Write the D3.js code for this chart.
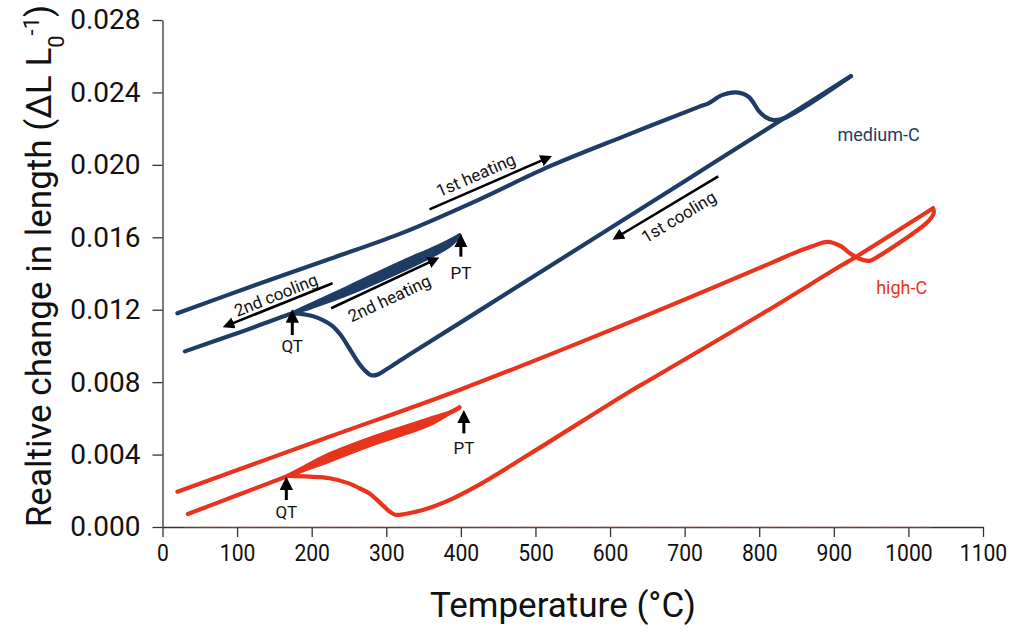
<!DOCTYPE html>
<html>
<head>
<meta charset="utf-8">
<script src="https://cdnjs.cloudflare.com/ajax/libs/d3/7.8.5/d3.min.js"></script>
<style>
  body { margin: 0; background: #fff; }
  svg { display: block; }
  .tick text { font-family: Roboto, "Noto Sans", sans-serif; fill: #111; }
  .note { font-family: Roboto, "Noto Sans", sans-serif; fill: #111; }
</style>
</head>
<body>
<svg id="chart" width="1024" height="640"></svg>
<script>
"use strict";

// axis ticks
var xTicks = [0, 100, 200, 300, 400, 500, 600, 700, 800, 900, 1000, 1100];
var yTicks = [0.000, 0.004, 0.008, 0.012, 0.016, 0.020, 0.024, 0.028];

// medium-C dilatometry curve, [temperature, dL/L0]
var mediumHeat1 = [[20, 0.0118], [120, 0.0133], [224, 0.0148], [319, 0.0162], [420, 0.0180],
  [518, 0.0199], [620, 0.0216], [719, 0.0232], [732, 0.0234], [750, 0.02385], [769, 0.0240],
  [786, 0.02375], [799, 0.0230], [808, 0.02265], [819, 0.02247], [835, 0.0226], [923, 0.0249]];
var mediumCool1 = [[923, 0.0249], [835, 0.02261], [700, 0.0191], [558, 0.01541], [411, 0.01159],
  [330, 0.0095], [300, 0.0087], [287, 0.0084], [279, 0.0084], [270, 0.0087], [264, 0.0090],
  [250, 0.0099], [239, 0.0106], [228, 0.0111], [215, 0.01143], [201, 0.01165], [188, 0.01176],
  [174, 0.0118]];
var mediumHeat2 = [[174, 0.0118], [200, 0.0123], [250, 0.01325], [317, 0.01455], [370, 0.0155],
  [398, 0.0161]];
var mediumCool2 = [[398, 0.0161], [385, 0.01555], [350, 0.01475], [317, 0.0141], [250, 0.0129],
  [200, 0.01215], [174, 0.0118], [100, 0.0107], [30, 0.0097]];

// high-C dilatometry curve
var highHeat1 = [[20, 0.00195], [218, 0.0049], [398, 0.00757], [626, 0.0113], [817, 0.0146],
  [845, 0.0151], [871, 0.0155], [891, 0.01575], [910, 0.0155], [922, 0.0151], [935, 0.0148],
  [948, 0.0147], [962, 0.0150], [1027, 0.0169], [1034, 0.01735], [1033, 0.0176]];
var highCool1 = [[1033, 0.0176], [929, 0.0149], [907, 0.01437], [813, 0.0120], [653, 0.00812],
  [626, 0.00747], [491, 0.0040], [420, 0.00223], [380, 0.0014], [349, 0.00094], [325, 0.00072],
  [312, 0.00068], [303, 0.0009], [295, 0.00121], [277, 0.00186], [264, 0.00214], [250, 0.00241],
  [224, 0.00269], [197, 0.00278], [168, 0.00282]];
var highHeat2 = [[168, 0.00282], [190, 0.0033], [218, 0.0039], [280, 0.0049], [357, 0.00595],
  [390, 0.0064], [398, 0.0066]];
var highCool2 = [[398, 0.0066], [385, 0.0063], [357, 0.00565], [280, 0.00455], [218, 0.00358],
  [168, 0.00282], [100, 0.00175], [34, 0.00072]];

// faint trace along the zero line
var baseTrace = [[30, 0], [1030, 0]];

// direction arrows: from, to, label, label position
var runNotes = [
  { from: [358, 0.01754], to: [515, 0.02036], text: "1st heating", at: [420, 0.01944] },
  { from: [745, 0.01937], to: [610, 0.01603], text: "1st cooling", at: [692, 0.01713] },
  { from: [228, 0.01346], to: [88, 0.01115], text: "2nd cooling", at: [152, 0.01281] },
  { from: [226, 0.01208], to: [364, 0.01474], text: "2nd heating", at: [304, 0.01263] }
];
// QT / PT markers: temperature, arrow foot, arrow head, label level
var pointNotes = [
  { t: 174, y0: 0.0106, y1: 0.01165, text: "QT", ty: 0.0100 },
  { t: 400, y0: 0.01493, y1: 0.01581, text: "PT", ty: 0.01401 },
  { t: 166, y0: 0.00149, y1: 0.00241, text: "QT", ty: 0.00084 },
  { t: 404, y0: 0.00517, y1: 0.00609, text: "PT", ty: 0.00435 }
];

var navy = "#1e3c64", red = "#e8341c";

var svg = d3.select("#chart");
var x = d3.scaleLinear().domain([0, 1100]).range([162.5, 983]);
var y = d3.scaleLinear().domain([0, 0.028]).range([527, 20]);

// arrow head marker
svg.append("defs").append("marker")
  .attr("id", "head")
  .attr("viewBox", "0 0 10 10")
  .attr("refX", 5).attr("refY", 5)
  .attr("markerWidth", 4.5).attr("markerHeight", 4.5)
  .attr("markerUnits", "strokeWidth")
  .attr("orient", "auto")
  .append("path")
    .attr("d", "M 0 0 L 10 5 L 0 10 z")
    .attr("fill", "#000");

// axes
var xAxis = svg.append("g")
  .attr("transform", "translate(0," + y(0) + ")")
  .call(d3.axisBottom(x).tickValues(xTicks).tickSize(10).tickSizeOuter(0).tickPadding(7)
    .tickFormat(d3.format("d")));
xAxis.selectAll(".tick text")
  .style("font-size", "24px")
  .attr("transform", "scale(0.88,1)");

var yAxis = svg.append("g")
  .attr("transform", "translate(" + x(0) + ",0)")
  .call(d3.axisLeft(y).tickValues(yTicks).tickSize(10).tickSizeOuter(0).tickPadding(12)
    .tickFormat(d3.format(".3f")));
yAxis.selectAll(".tick text").style("font-size", "28px");

[xAxis, yAxis].forEach(function(a) {
  a.selectAll("path, line").attr("stroke", "#333").attr("stroke-width", 1.3);
});

// axis titles
svg.append("text")
  .attr("class", "note")
  .attr("x", 563).attr("y", 617)
  .attr("text-anchor", "middle")
  .style("font-size", "35px")
  .text("Temperature (°C)");

var yTitle = svg.append("text")
  .attr("class", "note")
  .attr("transform", "translate(51,266) rotate(-90)")
  .attr("text-anchor", "middle")
  .style("font-size", "35px");
yTitle.append("tspan").text("Realtive change in length (ΔL L");
yTitle.append("tspan").attr("baseline-shift", "sub").style("font-size", "22px").text("0");
yTitle.append("tspan").attr("baseline-shift", "super").style("font-size", "22px").text("-1");
yTitle.append("tspan").text(")");

var line = d3.line()
  .x(function(d) { return x(d[0]); })
  .y(function(d) { return y(d[1]); })
  .curve(d3.curveCatmullRom.alpha(0.5));

svg.append("path")
  .attr("d", d3.line().x(function(d) { return x(d[0]); }).y(function(d) { return y(d[1]); })(baseTrace))
  .attr("fill", "none")
  .attr("stroke", "#f2a08f")
  .attr("stroke-width", 1)
  .attr("stroke-dasharray", "1,1.5");

// the 2nd heating / 2nd cooling pair closes into a thin filled sliver
function sliver(heat, cool) {
  var qt = heat[0][0];
  var back = [];
  for (var i = 0; i < cool.length; i++) {
    back.push(cool[i]);
    if (cool[i][0] === qt) break;
  }
  return heat.concat(back.slice(1));
}

var bands = [
  { pts: sliver(mediumHeat2, mediumCool2), c: navy },
  { pts: sliver(highHeat2, highCool2), c: red }
];
svg.append("g").selectAll("path")
  .data(bands).enter()
  .append("path")
    .attr("d", function(d) { return line(d.pts) + "Z"; })
    .attr("fill", function(d) { return d.c; })
    .attr("stroke", "none");

var curves = [
  { pts: mediumHeat1, c: navy }, { pts: mediumCool1, c: navy },
  { pts: mediumHeat2, c: navy }, { pts: mediumCool2, c: navy },
  { pts: highHeat1, c: red }, { pts: highCool1, c: red },
  { pts: highHeat2, c: red }, { pts: highCool2, c: red }
];
svg.append("g").selectAll("path")
  .data(curves).enter()
  .append("path")
    .attr("d", function(d) { return line(d.pts); })
    .attr("fill", "none")
    .attr("stroke", function(d) { return d.c; })
    .attr("stroke-width", 4.2)
    .attr("stroke-linecap", "round")
    .attr("stroke-linejoin", "round");

// run arrows and their labels
var runs = svg.append("g");
runNotes.forEach(function(n) {
  var x0 = x(n.from[0]), y0 = y(n.from[1]), x1 = x(n.to[0]), y1 = y(n.to[1]);
  runs.append("line")
    .attr("x1", x0).attr("y1", y0)
    .attr("x2", x1).attr("y2", y1)
    .attr("stroke", "#000")
    .attr("stroke-width", 2.6)
    .attr("marker-end", "url(#head)");
  var ang = Math.atan2(y1 - y0, x1 - x0) * 180 / Math.PI;
  if (ang > 90 || ang < -90) ang += 180;
  runs.append("text")
    .attr("class", "note")
    .attr("transform", "translate(" + x(n.at[0]) + "," + y(n.at[1]) + ") rotate(" + ang + ")")
    .attr("text-anchor", "middle")
    .attr("dominant-baseline", "central")
    .style("font-size", "17px")
    .text(n.text);
});

// QT / PT markers
var pts = svg.append("g");
pointNotes.forEach(function(n) {
  pts.append("line")
    .attr("x1", x(n.t)).attr("y1", y(n.y0))
    .attr("x2", x(n.t)).attr("y2", y(n.y1))
    .attr("stroke", "#000")
    .attr("stroke-width", 3)
    .attr("marker-end", "url(#head)");
  pts.append("text")
    .attr("class", "note")
    .attr("x", x(n.t)).attr("y", y(n.ty))
    .attr("text-anchor", "middle")
    .attr("dominant-baseline", "central")
    .style("font-size", "17px")
    .text(n.text);
});

// curve names
svg.append("text")
  .attr("x", x(960)).attr("y", y(0.0217))
  .attr("text-anchor", "middle").attr("dominant-baseline", "central")
  .style("font-family", "Roboto, sans-serif").style("font-size", "18px")
  .attr("fill", navy).text("medium-C");
svg.append("text")
  .attr("x", x(991)).attr("y", y(0.01325))
  .attr("text-anchor", "middle").attr("dominant-baseline", "central")
  .style("font-family", "Roboto, sans-serif").style("font-size", "18px")
  .attr("fill", red).text("high-C");
</script>
</body>
</html>
